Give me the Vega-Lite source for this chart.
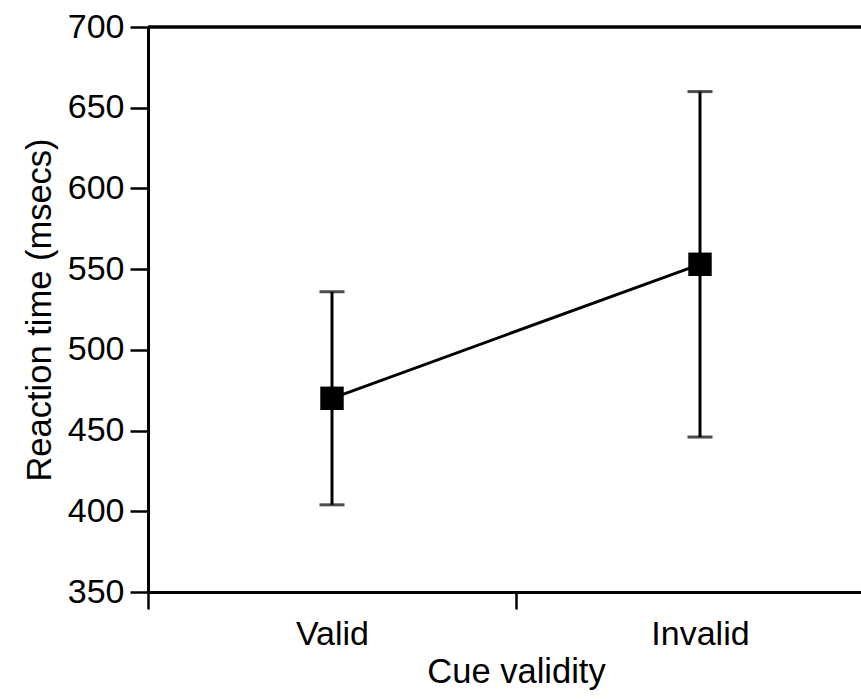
{
  "$schema": "https://vega.github.io/schema/vega-lite/v6.json",
  "width": 713,
  "height": 565,
  "autosize": {"type": "none"},
  "padding": {"left": 148, "top": 27, "right": 0, "bottom": 107},
  "background": "white",
  "config": {
    "view": {"stroke": null},
    "font": "Liberation Sans",
    "axis": {
      "domainColor": "black",
      "domainWidth": 3,
      "tickColor": "black",
      "tickWidth": 2.5,
      "tickSize": 17,
      "labelColor": "black",
      "titleColor": "black",
      "labelFont": "Liberation Sans",
      "titleFont": "Liberation Sans",
      "labelFontSize": 34,
      "titleFontSize": 34.5,
      "titleFontWeight": "normal",
      "grid": false
    }
  },
  "data": {
    "values": [
      {"cue": "Valid", "mean": 470, "lo": 404, "hi": 536},
      {"cue": "Invalid", "mean": 553, "lo": 446, "hi": 660}
    ]
  },
  "layer": [
    {
      "mark": {"type": "rule", "color": "black", "strokeWidth": 3},
      "encoding": {"y": {"datum": 700, "type": "quantitative"}}
    },
    {
      "mark": {"type": "rule", "color": "black", "strokeWidth": 3},
      "encoding": {
        "x": {
          "field": "cue", "type": "nominal", "sort": ["Valid", "Invalid"],
          "scale": {"type": "band", "paddingInner": 0, "paddingOuter": 0, "range": [0, 736]},
          "axis": {"title": "Cue validity", "labelAngle": 0, "tickBand": "extent", "labelPadding": 8, "titlePadding": 4}
        },
        "y": {
          "field": "lo", "type": "quantitative",
          "scale": {"domain": [350, 700], "nice": false, "zero": false},
          "axis": {"title": "Reaction time (msecs)", "values": [350, 400, 450, 500, 550, 600, 650, 700], "tickSize": 18, "labelPadding": 6, "titlePadding": 10}
        },
        "y2": {"field": "hi"}
      }
    },
    {
      "mark": {"type": "tick", "color": "black", "size": 25, "thickness": 3, "orient": "horizontal"},
      "encoding": {
        "x": {"field": "cue", "type": "nominal", "sort": ["Valid", "Invalid"]},
        "y": {"field": "lo", "type": "quantitative"}
      }
    },
    {
      "mark": {"type": "tick", "color": "black", "size": 25, "thickness": 3, "orient": "horizontal"},
      "encoding": {
        "x": {"field": "cue", "type": "nominal", "sort": ["Valid", "Invalid"]},
        "y": {"field": "hi", "type": "quantitative"}
      }
    },
    {
      "mark": {"type": "line", "color": "black", "strokeWidth": 3},
      "encoding": {
        "x": {"field": "cue", "type": "nominal", "sort": ["Valid", "Invalid"]},
        "y": {"field": "mean", "type": "quantitative"}
      }
    },
    {
      "mark": {"type": "square", "color": "black", "filled": true, "opacity": 1, "size": 550},
      "encoding": {
        "x": {"field": "cue", "type": "nominal", "sort": ["Valid", "Invalid"]},
        "y": {"field": "mean", "type": "quantitative"}
      }
    }
  ]
}
